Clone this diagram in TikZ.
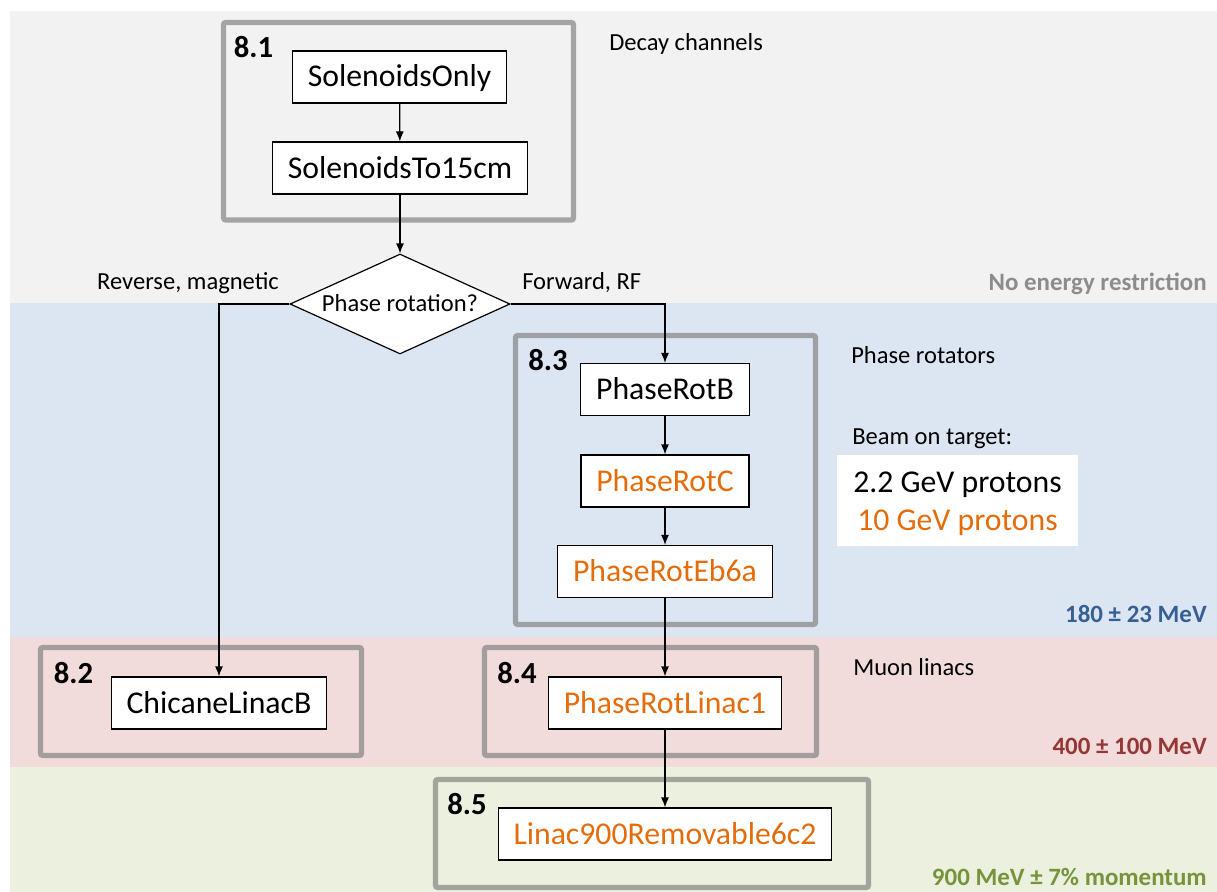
\documentclass[tikz,border=0pt]{standalone}
\usepackage{fontspec}
\setmainfont{Carlito}
\usetikzlibrary{shapes.geometric,arrows.meta}
\definecolor{bandgray}{HTML}{F2F2F2}
\definecolor{bandblue}{HTML}{DCE6F2}
\definecolor{bandred}{HTML}{F2DCDB}
\definecolor{bandgreen}{HTML}{EBF1DE}
\definecolor{framegray}{HTML}{808080}
\definecolor{orangetxt}{HTML}{E46C0A}
\definecolor{graytxt}{HTML}{8C8C8C}
\definecolor{bluetxt}{HTML}{376092}
\definecolor{redtxt}{HTML}{953735}
\definecolor{greentxt}{HTML}{77933C}
\begin{document}
\begin{tikzpicture}[x=0.75pt,y=-0.75pt,
  every node/.style={inner sep=0pt},
  stage/.style={draw=black, line width=0.9pt, fill=white, inner xsep=11.5pt,
    minimum height=39pt, font=\fontsize{23.8}{28.5}\selectfont,
    text height=15pt, text depth=0pt},
  hot/.style={text=orangetxt},
  decision/.style={shape=diamond, draw=black, line width=0.9pt, fill=white,
    aspect=2.2, minimum width=165pt, minimum height=75pt,
    font=\fontsize{18.4}{22}\selectfont, text height=11.6pt, text depth=0pt},
  lab/.style={anchor=west, font=\fontsize{18.4}{22}\selectfont,
    text height=11.6pt, text depth=0pt},
  corner/.style={anchor=east, font=\bfseries\fontsize{18.7}{22}\selectfont,
    text height=11.8pt, text depth=0pt},
  secnum/.style={font=\bfseries\fontsize{23}{27}\selectfont,
    text height=14.5pt, text depth=0pt},
  big/.style={font=\fontsize{23.8}{28.5}\selectfont, text height=15pt, text depth=0pt},
  group/.style={draw=framegray, draw opacity=0.68, line width=3.8pt, rounded corners=1.5pt},
  flow/.style={-{Latex[length=7.5pt,width=6pt]}, line width=0.9pt}
]
\useasboundingbox (0,0) rectangle (1217,892);

% energy bands
\fill[bandgray]  (10,11)  rectangle (1217,303);
\fill[bandblue]  (10,303) rectangle (1217,637);
\fill[bandred]   (10,637) rectangle (1217,767);
\fill[bandgreen] (10,767) rectangle (1217,892);

% section frames
\draw[group] (223.5,22.5) rectangle (573.5,220);
\draw[group] (515.5,335.5) rectangle (815.5,624.5);
\draw[group] (40.5,647.5) rectangle (361.5,755.5);
\draw[group] (484.5,647.5) rectangle (816.5,755.5);
\draw[group] (435.5,779.5) rectangle (868.5,887.5);

% section numbers
\node[secnum] (s81) at (253.5,47.5) {8.1};
\node[secnum] (s83) at (548,361) {8.3};
\node[secnum] (s82) at (73.5,674) {8.2};
\node[secnum] (s84) at (517,674) {8.4};
\node[secnum] (s85) at (467,804.5) {8.5};

% stages
\node[stage] (solOnly) at (399.5,77) {SolenoidsOnly};
\node[stage] (solTo) at (400,168) {SolenoidsTo15cm};
\node[decision] (phase) at (400,304) {Phase rotation?};
\node[stage] (prB) at (665,389.5) {PhaseRotB};
\node[stage,hot] (prC) at (665,481) {PhaseRotC};
\node[stage,hot] (prE) at (665,571.5) {PhaseRotEb6a};
\node[stage] (chic) at (219,703) {ChicaneLinacB};
\node[stage,hot] (prL) at (665,703) {PhaseRotLinac1};
\node[stage,hot] (lin) at (665,834) {Linac900Removable6c2};

% connectors
\draw[flow] (solOnly) -- (solTo);
\draw[flow] (solTo) -- (phase.north);
\draw[flow] (phase.west) -| (chic.north);
\draw[flow] (phase.east) -| (prB.north);
\draw[flow] (prB) -- (prC);
\draw[flow] (prC) -- (prE);
\draw[flow] (prE) -- (prL);
\draw[flow] (prL) -- (lin);

% branch labels and notes
\node[lab, anchor=center] (rev) at (188,282) {Reverse, magnetic};
\node[lab] (fwd) at (522,282) {Forward, RF};
\node[lab] (decay) at (609,43) {Decay channels};
\node[lab] (rot) at (851,356) {Phase rotators};
\node[lab] (beamlab) at (852,437) {Beam on target:};
\node[lab] (muon) at (853,668) {Muon linacs};

% beam energies
\node[fill=white, minimum width=180.75pt, minimum height=68.25pt] (beam) at (957.5,500.5) {};
\node[big] (p22) at (957.5,482) {2.2 GeV protons};
\node[big, text=orangetxt] (p10) at (957.5,520) {10 GeV protons};

% band energy ranges
\node[corner, text=graytxt] (e0) at (1207,283) {No energy restriction};
\node[corner, text=bluetxt] (e1) at (1207,615) {180 ± 23 MeV};
\node[corner, text=redtxt] (e2) at (1207,747) {400 ± 100 MeV};
\node[corner, text=greentxt] (e3) at (1207,878) {900 MeV ± 7\% momentum};
\end{tikzpicture}
\end{document}
